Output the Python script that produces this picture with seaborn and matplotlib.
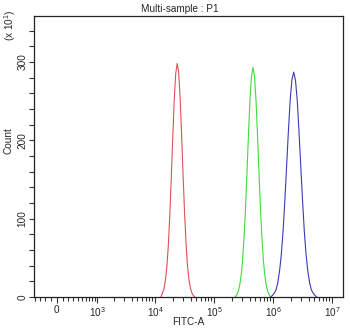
import numpy as np
import pandas as pd
import matplotlib
matplotlib.use("Agg")
import matplotlib.pyplot as plt
import seaborn as sns

# ---- data (x given as log10 of FITC-A intensity) ----
red_log = [4.100, 4.125, 4.150, 4.175, 4.200, 4.225, 4.250, 4.275, 4.300, 4.325, 4.350, 4.375,
           4.400, 4.425, 4.450, 4.475, 4.500, 4.525, 4.550, 4.575, 4.600, 4.625, 4.650, 4.675]
red_cnt = [0, 5, 10, 21, 38, 66, 104, 152, 203, 251, 285, 298,
           287, 254, 207, 156, 108, 69, 40, 22, 11, 5, 2, 0]

green_log = [5.36, 5.385, 5.41, 5.435, 5.46, 5.485, 5.51, 5.535, 5.56, 5.585, 5.61, 5.635, 5.66,
             5.685, 5.71, 5.735, 5.76, 5.785, 5.81, 5.835, 5.86, 5.885, 5.91, 5.935, 5.96]
green_cnt = [0, 3, 7, 15, 28, 48, 78, 116, 162, 210, 253, 282, 293,
             282, 253, 210, 162, 116, 78, 48, 28, 15, 7, 3, 0]

blue_log = [5.96, 5.99, 6.02, 6.05, 6.08, 6.11, 6.14, 6.17, 6.20, 6.23, 6.26, 6.29, 6.32, 6.35,
            6.38, 6.41, 6.44, 6.47, 6.50, 6.53, 6.56, 6.59, 6.62, 6.65, 6.68, 6.71, 6.74]
blue_cnt = [0, 2, 5, 9, 18, 33, 54, 84, 123, 167, 211, 251, 277, 287,
            277, 251, 211, 167, 123, 84, 54, 33, 18, 9, 5, 2, 0]

samples = ["red", "green", "blue"]
colors = ["#e05252", "#3ddc3d", "#3a3ab4"]

x_major = [0, 1e3, 1e4, 1e5, 1e6, 1e7]
x_major_labels = ["0", "$10^{3}$", "$10^{4}$", "$10^{5}$", "$10^{6}$", "$10^{7}$"]
y_major = [0, 100, 200, 300]

title = "Multi-sample : P1"
xlabel = "FITC-A"
ylabel = "Count"

# ---- build table ----
rows = []
for name, lg, ct in [("red", red_log, red_cnt), ("green", green_log, green_cnt), ("blue", blue_log, blue_cnt)]:
    for l, c in zip(lg, ct):
        rows.append({"FITC-A": 10 ** l, "Count": c, "sample": name})
df = pd.DataFrame(rows)

sns.set_style("ticks")
plt.rcParams["font.family"] = ["Liberation Sans", "DejaVu Sans"]
plt.rcParams["mathtext.fontset"] = "custom"
plt.rcParams["mathtext.rm"] = "Liberation Sans"
plt.rcParams["mathtext.it"] = "Liberation Sans"
plt.rcParams["mathtext.default"] = "regular"

W, H = 350, 329
fig = plt.figure(figsize=(W / 100, H / 100), dpi=100)
L, R, T, B = 34, 343, 15.7, 297
ax = fig.add_axes([L / W, 1 - B / H, (R - L) / W, (B - T) / H])

sns.lineplot(data=df, x="FITC-A", y="Count", hue="sample", hue_order=samples,
             palette=colors, linewidth=0.8, legend=False, ax=ax)

WSC = 430.0
ax.set_xscale("function", functions=(lambda v: np.arcsinh(np.asarray(v) / WSC),
                                     lambda v: WSC * np.sinh(np.asarray(v))))
ax.set_xlim(-432, 1.534e7)
ax.set_ylim(0, 359)

minor_x = [-400, -300, -200, -100] + [k * 100 for k in range(1, 10)]
for d in [1e3, 1e4, 1e5, 1e6]:
    minor_x += [k * d for k in range(2, 10)]
ax.set_xticks(x_major)
ax.set_xticklabels(x_major_labels)
ax.set_xticks(minor_x, minor=True)
ax.set_yticks(y_major)
ax.set_yticklabels([str(v) for v in y_major], rotation=90, va="center")
ax.set_yticks([v for v in range(20, 360, 20) if v % 100 != 0], minor=True)

fs = 7.2
ax.tick_params(axis="x", which="major", length=4.5, width=0.8, labelsize=fs, pad=1.5, color="#333333")
ax.tick_params(axis="x", which="minor", length=3.0, width=0.8, color="#333333")
ax.tick_params(axis="y", which="both", length=3.8, width=0.8, labelsize=fs, pad=1, color="#333333")
for s in ax.spines.values():
    s.set_visible(True)
    s.set_linewidth(0.9)
    s.set_color("#222222")

ax.set_xlabel("")
ax.set_ylabel("")
fig.text(188 / W, 1 - 322 / H, xlabel, ha="center", va="center", fontsize=fs)
fig.text(8 / W, 1 - 141 / H, ylabel, ha="center", va="center", rotation=90, fontsize=fs)
fig.text(10 / W, 1 - 25 / H, "(x 10$^{1}$)", ha="center", va="center", rotation=90, fontsize=fs)
fig.text(180 / W, 1 - 9 / H, title, ha="center", va="center", fontsize=fs)

fig.savefig("out.png", dpi=100, facecolor="white")
